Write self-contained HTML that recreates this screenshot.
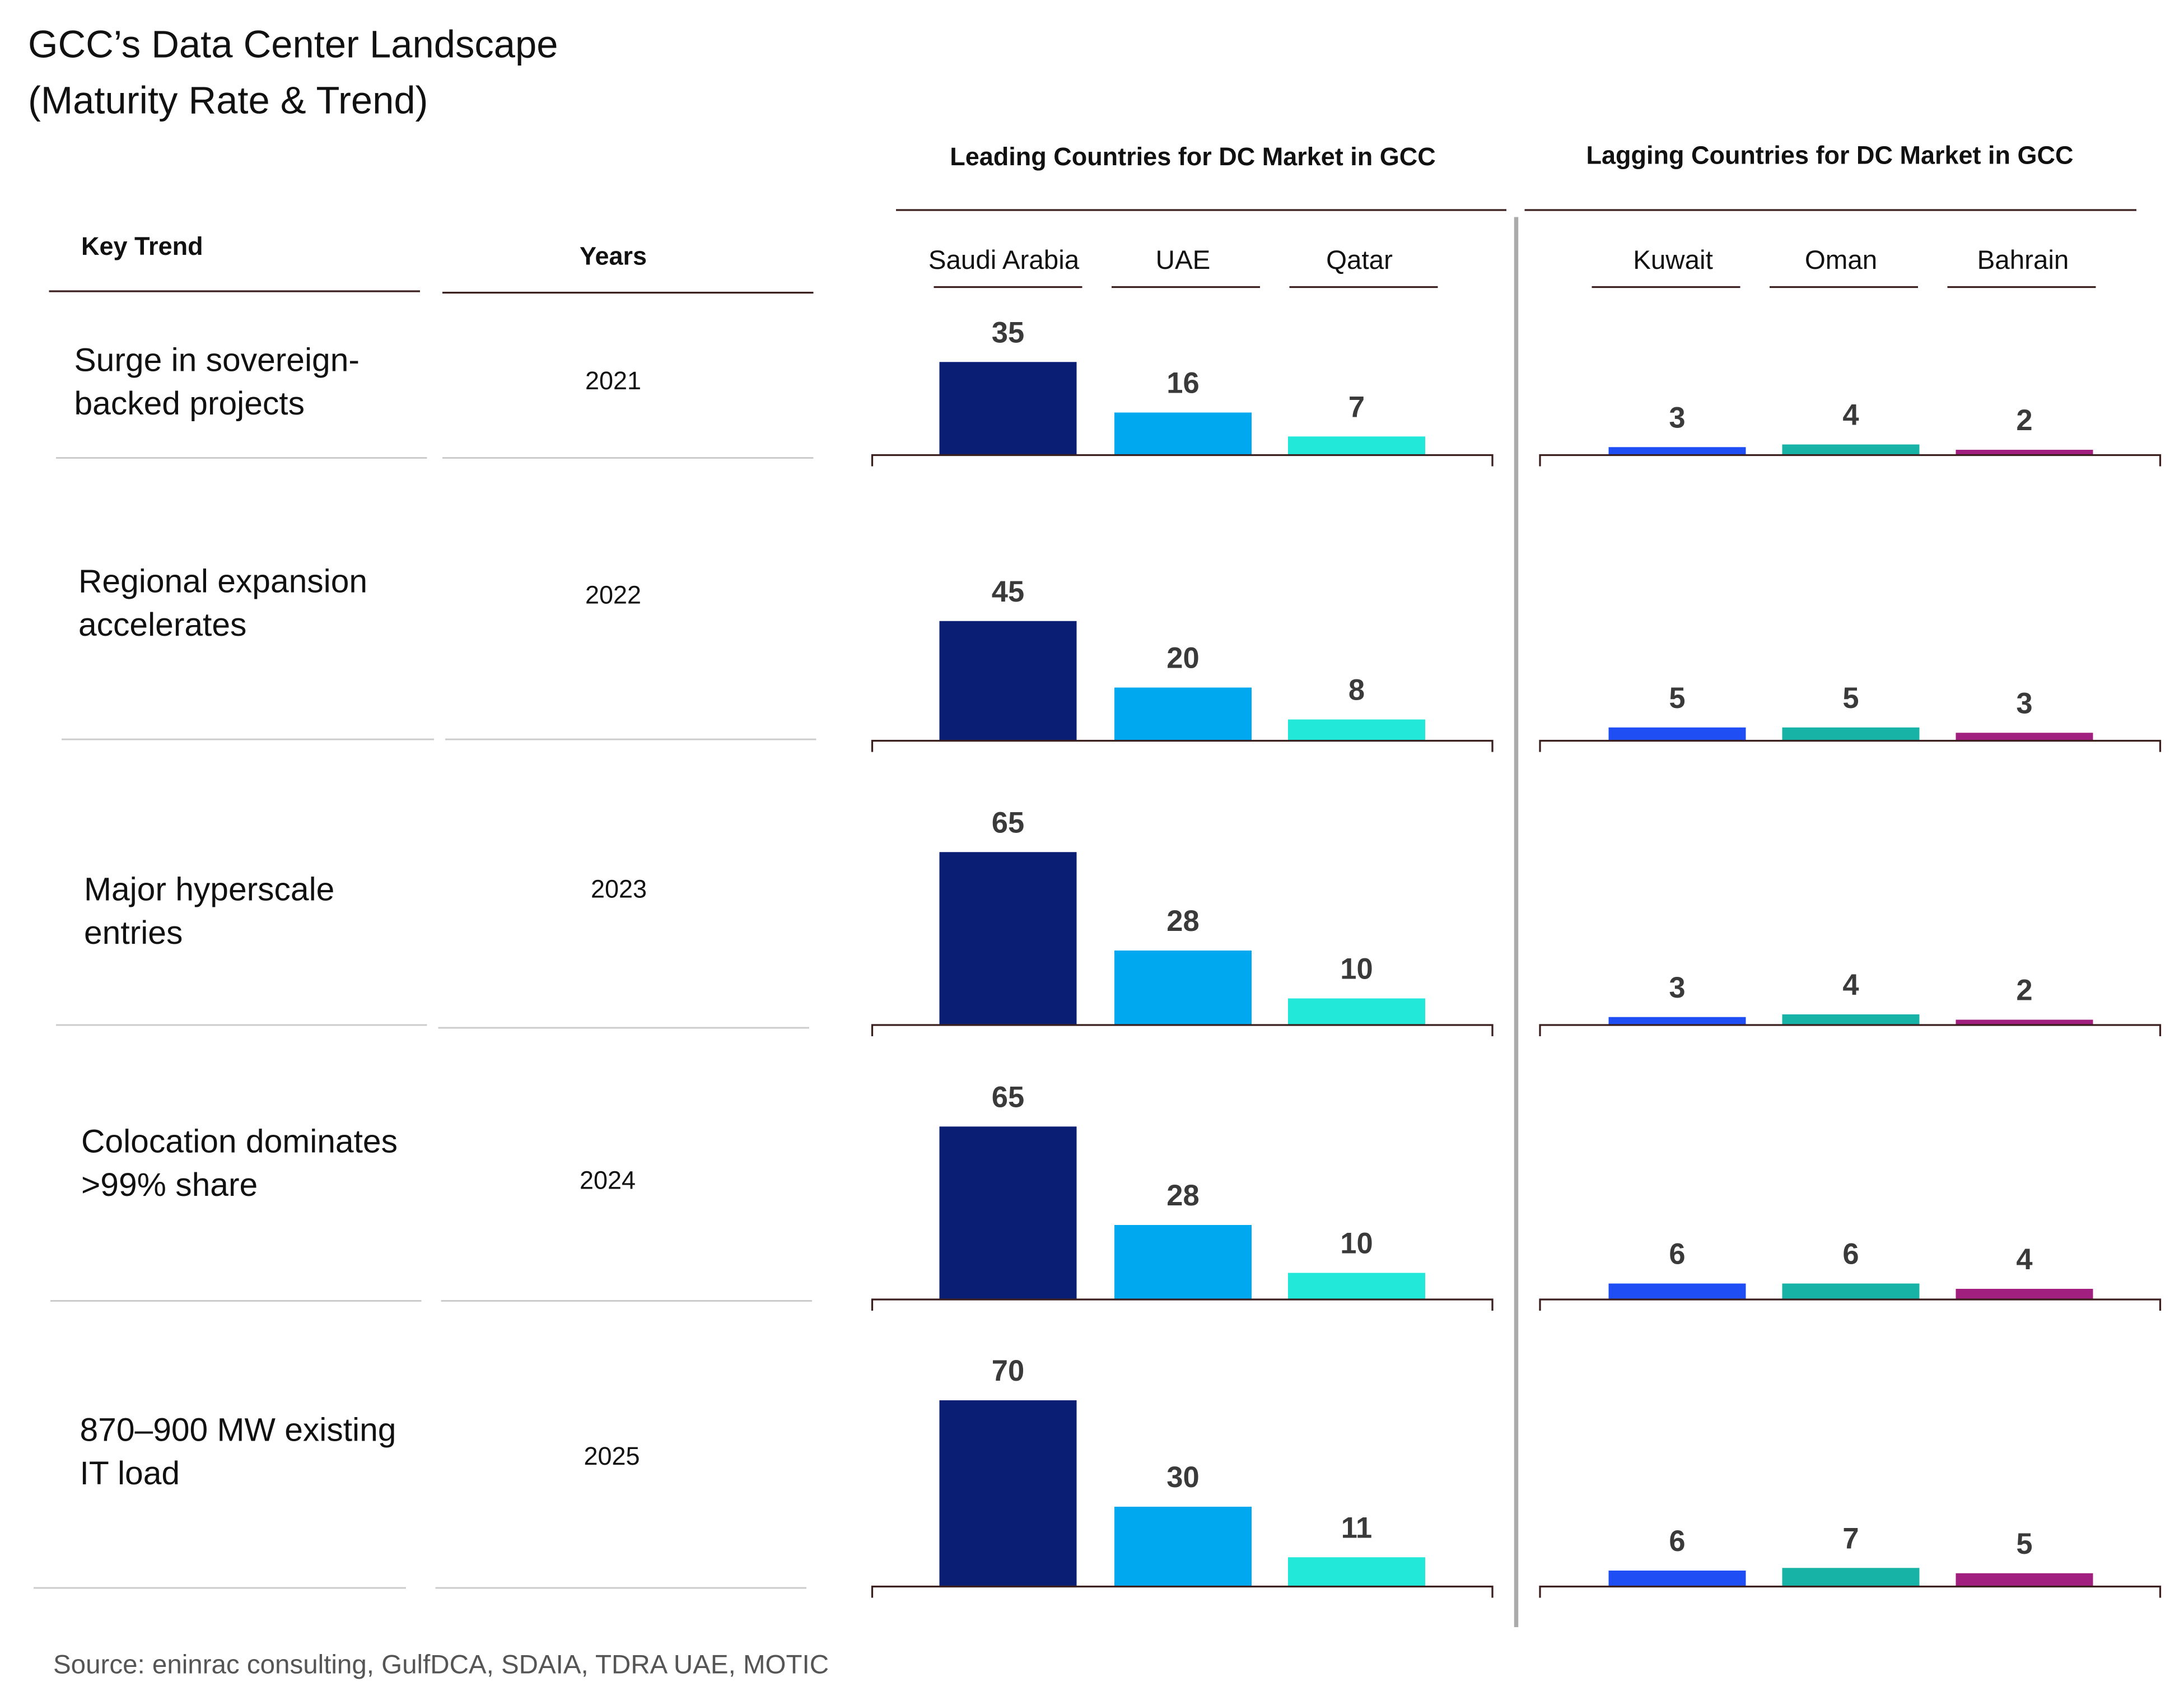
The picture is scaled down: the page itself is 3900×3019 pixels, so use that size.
<!DOCTYPE html>
<html><head><meta charset="utf-8"><style>
html,body{margin:0;padding:0;background:#fff}
svg{display:block}
text{font-family:"Liberation Sans",sans-serif;fill:#111}
.b{font-weight:bold}
.v{font-weight:bold;fill:#3a3a3a;font-size:21px;text-anchor:middle}
.c{font-size:19px;text-anchor:middle}
.r{font-size:23.5px}
.y{font-size:18px;text-anchor:middle}
.ax{fill:none;stroke:#3a1f1f;stroke-width:1.3}
</style></head><body>
<svg width="3900" height="3019" viewBox="0 0 1560 1207.6" xmlns="http://www.w3.org/2000/svg">
<text x="20" y="41" font-size="27.5">GCC’s Data Center Landscape</text>
<text x="20" y="81" font-size="27.5">(Maturity Rate &amp; Trend)</text>
<text x="852" y="118" class="b" font-size="18" text-anchor="middle">Leading Countries for DC Market in GCC</text>
<text x="1307" y="117" class="b" font-size="18" text-anchor="middle">Lagging Countries for DC Market in GCC</text>
<g stroke="#3a1f1f" stroke-width="1.3">
<line x1="640" y1="150" x2="1076" y2="150"/><line x1="1089" y1="150" x2="1526" y2="150"/>
<line x1="35" y1="208" x2="300" y2="208"/><line x1="316" y1="209" x2="581" y2="209"/>
<line x1="667" y1="205" x2="773" y2="205"/><line x1="794" y1="205" x2="900" y2="205"/><line x1="921" y1="205" x2="1027" y2="205"/>
<line x1="1137" y1="205" x2="1243" y2="205"/><line x1="1264" y1="205" x2="1370" y2="205"/><line x1="1391" y1="205" x2="1497" y2="205"/>
</g>
<line x1="1083" y1="155" x2="1083" y2="1162" stroke="#aaa" stroke-width="3"/>
<text x="58" y="182" class="b" font-size="18">Key Trend</text>
<text x="438" y="189" class="b" font-size="18" text-anchor="middle">Years</text>
<text x="717" y="192" class="c">Saudi Arabia</text><text x="845" y="192" class="c">UAE</text><text x="971" y="192" class="c">Qatar</text>
<text x="1195" y="192" class="c">Kuwait</text><text x="1315" y="192" class="c">Oman</text><text x="1445" y="192" class="c">Bahrain</text>
<g stroke="#ccc" stroke-width="1.2">
<line x1="40" y1="327" x2="305" y2="327"/><line x1="316" y1="327" x2="581" y2="327"/>
<line x1="44" y1="528" x2="310" y2="528"/><line x1="318" y1="528" x2="583" y2="528"/>
<line x1="40" y1="732" x2="305" y2="732"/><line x1="313" y1="734" x2="578" y2="734"/>
<line x1="36" y1="929" x2="301" y2="929"/><line x1="315" y1="929" x2="580" y2="929"/>
<line x1="24" y1="1134" x2="290" y2="1134"/><line x1="311" y1="1134" x2="576" y2="1134"/>
</g>
<text x="53" y="265" class="r">Surge in sovereign-</text><text x="53" y="296" class="r">backed projects</text><text x="438" y="278" class="y">2021</text>
<text x="56" y="423" class="r">Regional expansion</text><text x="56" y="454" class="r">accelerates</text><text x="438" y="431" class="y">2022</text>
<text x="60" y="643" class="r">Major hyperscale</text><text x="60" y="674" class="r">entries</text><text x="442" y="641" class="y">2023</text>
<text x="58" y="823" class="r">Colocation dominates</text><text x="58" y="854" class="r">&gt;99% share</text><text x="434" y="849" class="y">2024</text>
<text x="57" y="1029" class="r">870–900 MW existing</text><text x="57" y="1060" class="r">IT load</text><text x="437" y="1046" class="y">2025</text>

<!-- Row 1 -->
<rect x="671" y="258.5" width="98" height="66.5" fill="#0a1f74"/><text class="v" x="720" y="244.5">35</text>
<rect x="796" y="294.6" width="98" height="30.4" fill="#00a8f0"/><text class="v" x="845" y="280.6">16</text>
<rect x="920" y="311.7" width="98" height="13.3" fill="#21e8d8"/><text class="v" x="969" y="297.7">7</text>
<rect x="1149" y="319.3" width="98" height="5.7" fill="#1f4ef5"/><text class="v" x="1198" y="305.3">3</text>
<rect x="1273" y="317.4" width="98" height="7.6" fill="#17b3a6"/><text class="v" x="1322" y="303.4">4</text>
<rect x="1397" y="321.2" width="98" height="3.8" fill="#a01f7f"/><text class="v" x="1446" y="307.2">2</text>
<path class="ax" d="M623 333V325H1066V333M1100 333V325H1543V333"/>
<!-- Row 2 -->
<rect x="671" y="443.5" width="98" height="85.5" fill="#0a1f74"/><text class="v" x="720" y="429.5">45</text>
<rect x="796" y="491" width="98" height="38" fill="#00a8f0"/><text class="v" x="845" y="477">20</text>
<rect x="920" y="513.8" width="98" height="15.2" fill="#21e8d8"/><text class="v" x="969" y="499.8">8</text>
<rect x="1149" y="519.5" width="98" height="9.5" fill="#1f4ef5"/><text class="v" x="1198" y="505.5">5</text>
<rect x="1273" y="519.5" width="98" height="9.5" fill="#17b3a6"/><text class="v" x="1322" y="505.5">5</text>
<rect x="1397" y="523.3" width="98" height="5.7" fill="#a01f7f"/><text class="v" x="1446" y="509.3">3</text>
<path class="ax" d="M623 537V529H1066V537M1100 537V529H1543V537"/>
<!-- Row 3 -->
<rect x="671" y="608.5" width="98" height="123.5" fill="#0a1f74"/><text class="v" x="720" y="594.5">65</text>
<rect x="796" y="678.8" width="98" height="53.2" fill="#00a8f0"/><text class="v" x="845" y="664.8">28</text>
<rect x="920" y="713" width="98" height="19" fill="#21e8d8"/><text class="v" x="969" y="699">10</text>
<rect x="1149" y="726.3" width="98" height="5.7" fill="#1f4ef5"/><text class="v" x="1198" y="712.3">3</text>
<rect x="1273" y="724.4" width="98" height="7.6" fill="#17b3a6"/><text class="v" x="1322" y="710.4">4</text>
<rect x="1397" y="728.2" width="98" height="3.8" fill="#a01f7f"/><text class="v" x="1446" y="714.2">2</text>
<path class="ax" d="M623 740V732H1066V740M1100 740V732H1543V740"/>
<!-- Row 4 -->
<rect x="671" y="804.5" width="98" height="123.5" fill="#0a1f74"/><text class="v" x="720" y="790.5">65</text>
<rect x="796" y="874.8" width="98" height="53.2" fill="#00a8f0"/><text class="v" x="845" y="860.8">28</text>
<rect x="920" y="909" width="98" height="19" fill="#21e8d8"/><text class="v" x="969" y="895">10</text>
<rect x="1149" y="916.6" width="98" height="11.4" fill="#1f4ef5"/><text class="v" x="1198" y="902.6">6</text>
<rect x="1273" y="916.6" width="98" height="11.4" fill="#17b3a6"/><text class="v" x="1322" y="902.6">6</text>
<rect x="1397" y="920.4" width="98" height="7.6" fill="#a01f7f"/><text class="v" x="1446" y="906.4">4</text>
<path class="ax" d="M623 936V928H1066V936M1100 936V928H1543V936"/>
<!-- Row 5 -->
<rect x="671" y="1000" width="98" height="133" fill="#0a1f74"/><text class="v" x="720" y="986">70</text>
<rect x="796" y="1076" width="98" height="57" fill="#00a8f0"/><text class="v" x="845" y="1062">30</text>
<rect x="920" y="1112.1" width="98" height="20.9" fill="#21e8d8"/><text class="v" x="969" y="1098.1">11</text>
<rect x="1149" y="1121.6" width="98" height="11.4" fill="#1f4ef5"/><text class="v" x="1198" y="1107.6">6</text>
<rect x="1273" y="1119.7" width="98" height="13.3" fill="#17b3a6"/><text class="v" x="1322" y="1105.7">7</text>
<rect x="1397" y="1123.5" width="98" height="9.5" fill="#a01f7f"/><text class="v" x="1446" y="1109.5">5</text>
<path class="ax" d="M623 1141V1133H1066V1141M1100 1141V1133H1543V1141"/>

<text x="38" y="1195" font-size="19" style="fill:#555">Source: eninrac consulting, GulfDCA, SDAIA, TDRA UAE, MOTIC</text>
</svg>
</body></html>
